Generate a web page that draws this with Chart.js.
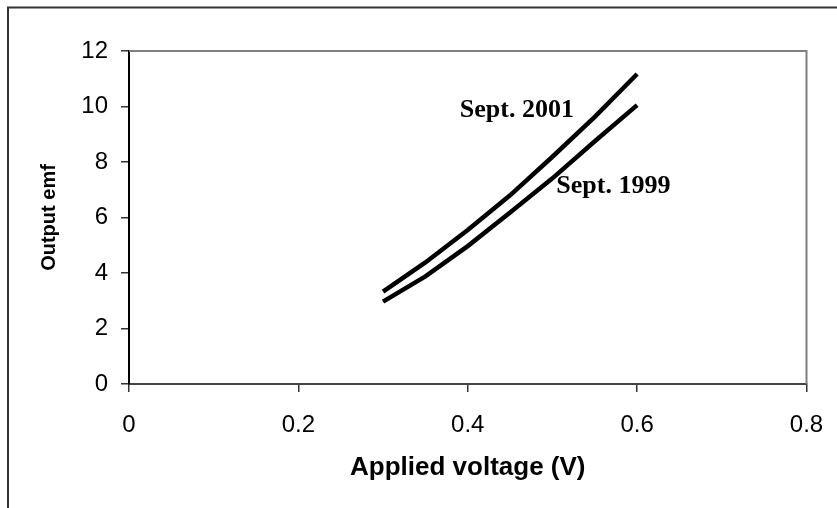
<!DOCTYPE html>
<html>
<head>
<meta charset="utf-8">
<script src="https://cdn.jsdelivr.net/npm/chart.js@4/dist/chart.umd.min.js"></script>
<style>
  html, body { margin: 0; padding: 0; background: #ffffff; }
  #wrap { width: 837px; height: 508px; position: relative; }
</style>
</head>
<body>
<div id="wrap"><canvas id="c" width="837" height="508"></canvas></div>
<script>
// ---- data ----
const voltage = [0.30, 0.35, 0.40, 0.45, 0.50, 0.55, 0.60];
const emfSept2001 = [3.33, 4.38, 5.55, 6.80, 8.19, 9.63, 11.17];
const emfSept1999 = [2.97, 3.88, 4.97, 6.18, 7.41, 8.75, 10.05];
const seriesNames = ['Sept. 2001', 'Sept. 1999'];
const labelAnchorsX = [0.458, 0.572];
const labelAnchorsY = [9.87, 7.13];
const xTicks = [0, 0.2, 0.4, 0.6, 0.8];
const yTicks = [0, 2, 4, 6, 8, 10, 12];

const toXY = (xs, ys) => xs.map((x, i) => ({ x: x, y: ys[i] }));

const framePlugin = {
  id: 'frame',
  beforeDraw(chart) {
    const ctx = chart.ctx;
    ctx.save();
    ctx.fillStyle = '#ffffff';
    ctx.fillRect(0, 0, chart.width, chart.height);
    ctx.strokeStyle = '#333333';
    ctx.lineWidth = 2;
    ctx.beginPath();
    ctx.moveTo(8, chart.height + 5);
    ctx.lineTo(8, 7.5);
    ctx.lineTo(chart.width + 5, 7.5);
    ctx.stroke();
    ctx.restore();
  },
  afterDatasetsDraw(chart) {
    const ctx = chart.ctx;
    const a = chart.chartArea;
    ctx.save();
    ctx.strokeStyle = '#808080';
    ctx.lineWidth = 2;
    ctx.beginPath();
    ctx.moveTo(a.left, a.top);
    ctx.lineTo(a.right, a.top);
    ctx.lineTo(a.right, a.bottom);
    ctx.stroke();
    const xs = chart.scales.x, ys = chart.scales.y;
    ctx.fillStyle = '#000000';
    ctx.font = 'bold 26px "Liberation Serif", "Times New Roman", serif';
    ctx.textAlign = 'center';
    ctx.textBaseline = 'middle';
    seriesNames.forEach((n, i) => {
      ctx.fillText(n, xs.getPixelForValue(labelAnchorsX[i]), ys.getPixelForValue(labelAnchorsY[i]));
    });
    ctx.restore();
  }
};

new Chart(document.getElementById('c'), {
  type: 'line',
  data: {
    datasets: [
      { label: seriesNames[0], data: toXY(voltage, emfSept2001), borderColor: '#000000', borderWidth: 4.5, pointRadius: 0, tension: 0, fill: false },
      { label: seriesNames[1], data: toXY(voltage, emfSept1999), borderColor: '#000000', borderWidth: 4.5, pointRadius: 0, tension: 0, fill: false }
    ]
  },
  options: {
    responsive: false,
    animation: false,
    devicePixelRatio: 1,
    layout: { padding: { left: 0, top: 51, right: 30.5, bottom: 0 } },
    plugins: { legend: { display: false }, tooltip: { enabled: false } },
    scales: {
      x: {
        type: 'linear',
        min: 0, max: 0.8,
        afterBuildTicks(s) { s.ticks = xTicks.map(v => ({ value: v })); },
        afterFit(s) { s.height = 124; s.paddingLeft = 0; s.paddingRight = 0; },
        grid: { display: true, drawOnChartArea: false, drawTicks: true, tickLength: 8, color: '#333333', lineWidth: 1.5 },
        border: { display: true, color: '#444444', width: 2 },
        ticks: { color: '#000000', padding: 19, maxRotation: 0, font: { family: '"Liberation Sans", Arial, sans-serif', size: 24 }, callback: v => String(v) },
        title: { display: true, text: 'Applied voltage (V)', color: '#000000', font: { family: '"Liberation Sans", Arial, sans-serif', size: 26, weight: 'bold' }, padding: { top: 0, bottom: 25 } }
      },
      y: {
        type: 'linear',
        min: 0, max: 12,
        afterBuildTicks(s) { s.ticks = yTicks.map(v => ({ value: v })); },
        afterFit(s) { s.width = 129; s.paddingTop = 0; s.paddingBottom = 0; },
        grid: { display: true, drawOnChartArea: false, drawTicks: true, tickLength: 8, color: '#333333', lineWidth: 1.5 },
        border: { display: true, color: '#000000', width: 2 },
        ticks: { color: '#000000', padding: 13, font: { family: '"Liberation Sans", Arial, sans-serif', size: 24 }, callback: v => String(v) },
        title: { display: true, text: 'Output emf', color: '#000000', font: { family: '"Liberation Sans", Arial, sans-serif', size: 20, weight: 'bold' }, padding: { top: 37, bottom: 0 } }
      }
    }
  },
  plugins: [framePlugin]
});
</script>
</body>
</html>
